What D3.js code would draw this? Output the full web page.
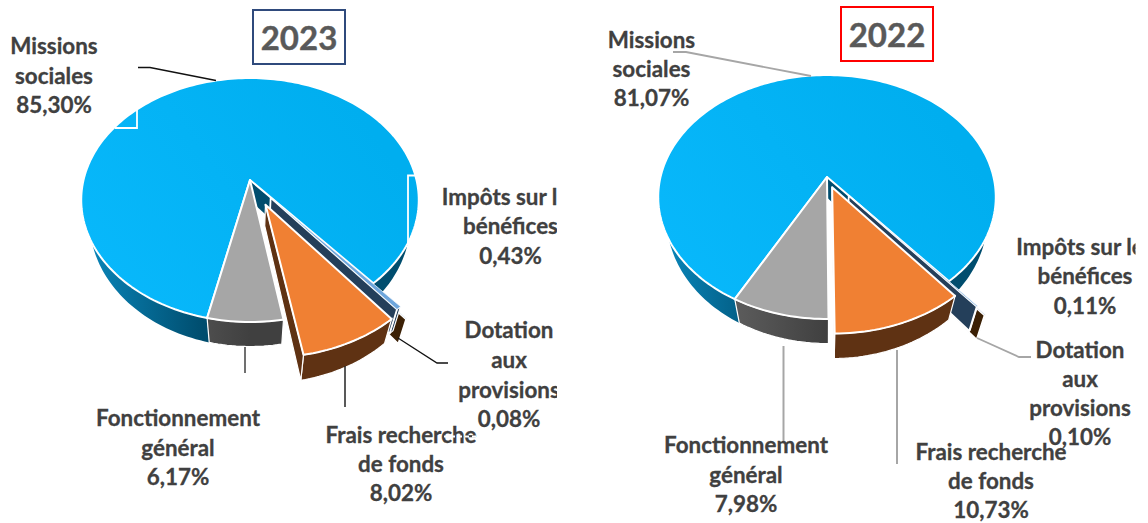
<!DOCTYPE html>
<html>
<head>
<meta charset="utf-8">
<script src="https://cdn.jsdelivr.net/npm/d3@7"></script>
<style>
  html, body { margin: 0; padding: 0; background: #fff; }
  svg { display: block; }
  text { font-family: Lato, "Open Sans", sans-serif; font-weight: 700; }
</style>
</head>
<body>
<svg id="chart"></svg>
<script>
// Data
var categories = ["Missions sociales", "Impôts sur les bénéfices", "Dotation aux provisions", "Frais recherche de fonds", "Fonctionnement général"];
var values2023 = [85.30, 0.43, 0.08, 8.02, 6.17];
var values2022 = [81.07, 0.11, 0.10, 10.73, 7.98];
var explode2023 = [0, 0.19, 0.26, 0.22, 0];
var explode2022 = [0, 0.20, 0.26, 0.09, 0];

// SVG size params
var width = 1148;
var height = 523;

var svg = d3.select("#chart")
    .attr("width", width)
    .attr("height", height);

var defs = svg.append("defs");

// Colours
var topColor = d3.scaleOrdinal().domain(categories).range(["#00b0f0", "#6ea6dc", "#c9d6e6", "#f08033", "#a6a6a6"]);
var wallColor = d3.scaleOrdinal().domain(categories).range(["#004d6e", "#243f5a", "#3b2005", "#5f3213", "#434343"]);

// Perspective of the disc: the rim is a circle, seen from the front
var tilt = -0.164;
var scaleX = 166.5;
var scaleY = 118.7;
var depth = 20.5;
var bottomShrink = 0.05;

var line = d3.line();

function drawPie(id, values, explode, cx, cy, startDeg, wallMaxX) {
  var start = startDeg * Math.PI / 180;
  var pie = d3.pie().sort(null).startAngle(start).endAngle(start + 2 * Math.PI);
  var arcs = pie(values);

  // Gradients
  var g1 = defs.append("linearGradient").attr("id", "wall" + id)
      .attr("gradientUnits", "userSpaceOnUse")
      .attr("x1", cx - 168).attr("x2", cx + 168).attr("y1", 0).attr("y2", 0);
  g1.append("stop").attr("offset", 0).attr("stop-color", "#0a88bd");
  g1.append("stop").attr("offset", 0.36).attr("stop-color", "#004d6e");
  var g2 = defs.append("linearGradient").attr("id", "top" + id)
      .attr("gradientUnits", "userSpaceOnUse")
      .attr("x1", cx - 120).attr("y1", cy + 140).attr("x2", cx + 130).attr("y2", cy - 40);
  g2.append("stop").attr("offset", 0).attr("stop-color", "#08b8fb");
  g2.append("stop").attr("offset", 1).attr("stop-color", "#00aeef");
  var g3 = defs.append("linearGradient").attr("id", "grey" + id)
      .attr("gradientUnits", "userSpaceOnUse")
      .attr("x1", cx - 92).attr("x2", cx).attr("y1", 0).attr("y2", 0);
  g3.append("stop").attr("offset", 0).attr("stop-color", "#5c5c5c");
  g3.append("stop").attr("offset", 1).attr("stop-color", "#404040");
  defs.append("clipPath").attr("id", "wallClip" + id)
    .append("rect").attr("x", 0).attr("y", 0).attr("width", wallMaxX).attr("height", height);

  var g = svg.append("g");

  // Paint order: big slice first, then the far thin ones, then the front
  [0, 2, 1, 4, 3].forEach(function(i) {
    var d = arcs[i];
    var mid = (d.startAngle + d.endAngle) / 2;
    var offU = explode[i] * Math.sin(mid);
    var offV = -explode[i] * Math.cos(mid);

    function project(angle, r, z) {
      var u = r * Math.sin(angle) + offU;
      var v = -r * Math.cos(angle) + offV;
      var w = 1 + tilt * v;
      var shrink = 1 - bottomShrink * z / depth;
      return [cx + scaleX * u * shrink / w, cy + (scaleY * v + z) / w];
    }

    var steps = d3.range(0, 1.0001, 1 / Math.max(2, Math.ceil((d.endAngle - d.startAngle) * 40)));
    var rim = steps.map(function(t) { return d.startAngle + t * (d.endAngle - d.startAngle); });
    var thin = values[i] < 1;

    // Outer wall
    var wallPts = rim.map(function(a) { return project(a, 1, 0); })
      .concat(rim.slice().reverse().map(function(a) { return project(a, 1, depth); }));
    g.append("path")
      .attr("d", line(wallPts) + "Z")
      .attr("clip-path", i === 0 ? "url(#wallClip" + id + ")" : null)
      .attr("fill", i === 0 ? "url(#wall" + id + ")" : i === 4 ? "url(#grey" + id + ")" : wallColor(categories[i]))
      .attr("stroke", i === 0 ? "none" : "#fff")
      .attr("stroke-width", 1.2);

    // Cut face on the clockwise side, which looks to the viewer
    if (i !== 4) {
      var faceAngle = d.endAngle;
      var facePts = [project(0, 0, 0), project(faceAngle, 1, 0), project(faceAngle, 1, depth), project(0, 0, depth)];
      g.append("path")
        .attr("d", line(facePts) + "Z")
        .attr("fill", wallColor(categories[i]))
        .attr("stroke", i === 0 ? "none" : "#fff")
        .attr("stroke-width", thin ? 1.8 : 1.2)
        .attr("stroke-linejoin", "round");
    }

    // Top face
    var topPts = [project(0, 0, 0)].concat(rim.map(function(a) { return project(a, 1, 0); }));
    g.append("path")
      .attr("d", line(topPts) + "Z")
      .attr("fill", i === 0 ? "url(#top" + id + ")" : topColor(categories[i]))
      .attr("stroke", "#fff")
      .attr("stroke-width", thin ? 0.7 : 2)
      .attr("stroke-linejoin", "round");
  });
}

drawPie("a", values2023, explode2023, 250, 180, 192.5, 408);
drawPie("b", values2022, explode2022, 827, 177, 208.3, width);

// Leader lines
function leader(points, color, w) {
  svg.append("path")
    .attr("d", line(points))
    .attr("fill", "none")
    .attr("stroke", color)
    .attr("stroke-width", w);
}
leader([[138, 67.5], [150, 67.5], [216, 80.5]], "#111", 1.3);
leader([[245, 347], [245, 373]], "#404040", 1.5);
leader([[345, 366], [345, 407]], "#222", 1.5);
leader([[398, 338], [437, 363], [448, 363]], "#111", 1.3);
leader([[673, 52], [686, 52], [811, 76]], "#a6a6a6", 1.8);
leader([[783.5, 346], [783.5, 443]], "#a6a6a6", 2);
leader([[897, 350], [897, 464]], "#a6a6a6", 2);
leader([[977, 338], [1019, 357], [1031, 357]], "#a6a6a6", 1.8);

// White corners of the old label boxes left on the 2023 pie
leader([[115, 128], [137, 128], [137, 110]], "#fff", 1.8);
leader([[415, 175.5], [408, 175.5], [408, 245]], "#fff", 1.8);

// Clip of the cut labels
defs.append("clipPath").attr("id", "clipA").append("rect").attr("x", 400).attr("y", 150).attr("width", 157).attr("height", 300);
defs.append("clipPath").attr("id", "clipB").append("rect").attr("x", 980).attr("y", 200).attr("width", 155.5).attr("height", 300);

var labelSize = 22.4;

function label(lines, x, ys, clip) {
  svg.append("g")
    .attr("clip-path", clip ? "url(#" + clip + ")" : null)
    .selectAll("text")
    .data(lines)
    .enter().append("text")
      .attr("x", x)
      .attr("y", function(d, i) { return ys[i]; })
      .attr("text-anchor", "middle")
      .attr("font-size", labelSize)
      .attr("fill", "#404040")
      .attr("stroke", "#404040")
      .attr("stroke-width", 0.3)
      .text(function(d) { return d; });
}

label(["Missions", "sociales", "85,30%"], 54, [54, 84, 113]);
label(["Impôts sur les", "bénéfices", "0,43%"], 510.5, [205, 234, 264], "clipA");
label(["Dotation", "aux", "provisions", "0,08%"], 509, [338, 368, 398, 427], "clipA");
label(["Fonctionnement", "général", "6,17%"], 178, [426, 456, 485]);
label(["Frais recherche", "de fonds", "8,02%"], 401, [443, 472, 501]);

label(["Missions", "sociales", "81,07%"], 651.5, [48, 77, 106]);
label(["Impôts sur les", "bénéfices", "0,11%"], 1085, [255, 284, 314], "clipB");
label(["Dotation", "aux", "provisions", "0,10%"], 1080, [358, 387, 416, 445]);
label(["Fonctionnement", "général", "7,98%"], 746, [453, 483, 512]);
label(["Frais recherche", "de fonds", "10,73%"], 991, [460, 489, 518]);

// Dashed white scratch over "recherche" in 2023
svg.append("path")
  .attr("d", line([[444, 436.5], [478, 436.5]]))
  .attr("stroke", "#fff")
  .attr("stroke-width", 2)
  .attr("stroke-dasharray", "4 3");

// Year boxes
function yearBox(year, x, y, color) {
  svg.append("rect")
    .attr("x", x).attr("y", y)
    .attr("width", 92).attr("height", 54)
    .attr("fill", "#fff")
    .attr("stroke", color)
    .attr("stroke-width", 2);
  svg.append("text")
    .attr("x", x + 46)
    .attr("y", y + 40)
    .attr("text-anchor", "middle")
    .attr("font-size", 33)
    .attr("fill", "#595959")
    .attr("stroke", "#595959")
    .attr("stroke-width", 0.4)
    .text(year);
}
yearBox("2023", 253, 10, "#2f4a7c");
yearBox("2022", 841, 7, "#ff0000");
</script>
</body>
</html>
